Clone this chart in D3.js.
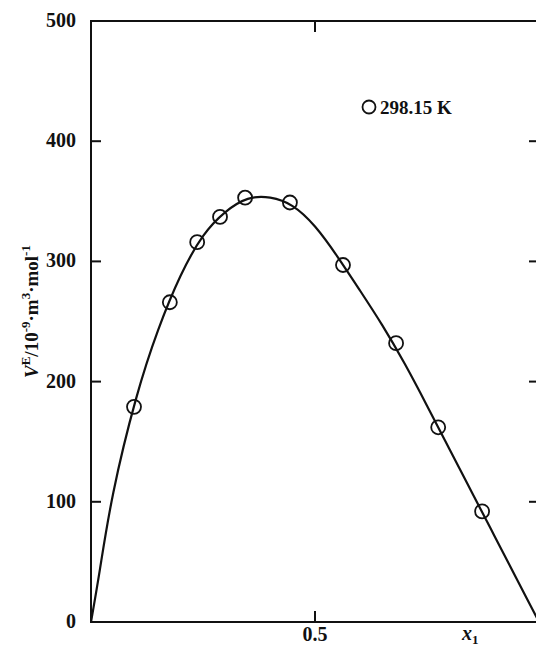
<!doctype html>
<html lang="en">
<head>
  <meta charset="utf-8">
  <title>Excess molar volume</title>
  <style>
    body { margin: 0; background: #fff; }
    svg { display: block; }
    text { font-family: "Liberation Serif", "Times New Roman", serif; font-weight: bold; fill: #111; }
  </style>
</head>
<body>
<svg id="mysvg"></svg>
<script src="https://d3js.org/d3.v7.min.js"></script>
<script>
// measured points at 298.15 K
var xPoints = [0.096, 0.176, 0.237, 0.288, 0.344, 0.444, 0.5625, 0.681, 0.775, 0.873];
var yPoints = [179, 266, 316, 337, 353, 349, 297, 232, 162, 92];

// fitted curve
var xCurve = [0, 0.02, 0.05, 0.10, 0.15, 0.20, 0.25, 0.30, 0.35, 0.40, 0.45, 0.50, 0.55, 0.60, 0.65, 0.70, 0.75, 0.80, 0.85, 0.90, 0.95, 1.0];
var yCurve = [0, 44, 108, 185, 243, 288, 321, 341, 352, 353, 346, 329, 304, 276, 247, 215, 180, 144, 108, 72, 36, 0];

var yTicks = [0, 100, 200, 300, 400, 500];
var xTicks = [0.5];
var legendLabel = "298.15 K";

var width = 536;
var height = 646;
// plot box (don't call these top/left: window.top is taken)
var pLeft = 91, pRight = 539, pTop = 21, pBottom = 622;

var svg = d3.select("#mysvg")
  .attr("width", width)
  .attr("height", height);

var x = d3.scaleLinear().domain([0, 1]).range([pLeft, pRight]);
var y = d3.scaleLinear().domain([0, 500]).range([pBottom, pTop]);

var ink = "#111";

// frame
svg.append("rect")
  .attr("x", pLeft).attr("y", pTop)
  .attr("width", pRight - pLeft).attr("height", pBottom - pTop)
  .style("fill", "none").style("stroke", ink).style("stroke-width", 2);

var innerTicks = yTicks.filter(function(d) { return d > 0 && d < 500; });

// left axis ticks (inward)
svg.selectAll(".ytick").data(innerTicks)
  .enter().append("line")
  .attr("x1", pLeft).attr("x2", pLeft + 10)
  .attr("y1", function(d) { return y(d); })
  .attr("y2", function(d) { return y(d); })
  .style("stroke", ink).style("stroke-width", 2);

// right axis ticks (inward)
svg.selectAll(".ytickr").data(innerTicks)
  .enter().append("line")
  .attr("x1", pRight).attr("x2", pRight - 10)
  .attr("y1", function(d) { return y(d); })
  .attr("y2", function(d) { return y(d); })
  .style("stroke", ink).style("stroke-width", 2);

svg.selectAll(".ylab").data(yTicks)
  .enter().append("text")
  .attr("x", 76)
  .attr("y", function(d) { return y(d) + 6; })
  .attr("text-anchor", "end")
  .style("font-size", "20px")
  .text(function(d) { return d; });

// bottom/top ticks at 0.5
xTicks.forEach(function(t) {
  svg.append("line")
    .attr("x1", x(t)).attr("x2", x(t))
    .attr("y1", pBottom).attr("y2", pBottom - 11)
    .style("stroke", ink).style("stroke-width", 2);
  svg.append("line")
    .attr("x1", x(t)).attr("x2", x(t))
    .attr("y1", pTop).attr("y2", pTop + 11)
    .style("stroke", ink).style("stroke-width", 2);
  svg.append("text")
    .attr("x", x(t)).attr("y", 641)
    .attr("text-anchor", "middle")
    .style("font-size", "20px")
    .text(t);
});

// x axis title
var xt = svg.append("text").attr("x", 462).attr("y", 640).style("font-size", "20px");
xt.append("tspan").style("font-style", "italic").text("x");
xt.append("tspan").attr("dy", 4).style("font-size", "13px").text("1");

// y axis title
var yt = svg.append("text")
  .attr("transform", "translate(38,378) rotate(-90)")
  .style("font-size", "19px");
yt.append("tspan").style("font-style", "italic").text("V");
yt.append("tspan").attr("dy", -8).style("font-size", "13px").text("E");
yt.append("tspan").attr("dy", 8).text("/10");
yt.append("tspan").attr("dy", -8).style("font-size", "13px").text("-9");
yt.append("tspan").attr("dy", 8).text("\u00b7m");
yt.append("tspan").attr("dy", -8).style("font-size", "13px").text("3");
yt.append("tspan").attr("dy", 8).text("\u00b7mol");
yt.append("tspan").attr("dy", -8).style("font-size", "13px").text("-1");

// fitted curve
var curveData = xCurve.map(function(d, i) { return [d, yCurve[i]]; });
var line = d3.line()
  .x(function(d) { return x(d[0]); })
  .y(function(d) { return y(d[1]); })
  .curve(d3.curveNatural);
svg.append("path").datum(curveData).attr("d", line)
  .style("fill", "none").style("stroke", ink).style("stroke-width", 2.2);

// points
var pts = xPoints.map(function(d, i) { return [d, yPoints[i]]; });
svg.selectAll("circle.pt").data(pts)
  .enter().append("circle")
  .attr("class", "pt")
  .attr("r", 7)
  .attr("cx", function(d) { return x(d[0]); })
  .attr("cy", function(d) { return y(d[1]); })
  .style("fill", "none").style("stroke", ink).style("stroke-width", 1.8);

// legend
svg.append("circle").attr("cx", 369).attr("cy", 107).attr("r", 6.5)
  .style("fill", "none").style("stroke", ink).style("stroke-width", 1.8);
svg.append("text").attr("x", 380).attr("y", 114)
  .style("font-size", "19px")
  .text(legendLabel);
</script>
</body>
</html>
